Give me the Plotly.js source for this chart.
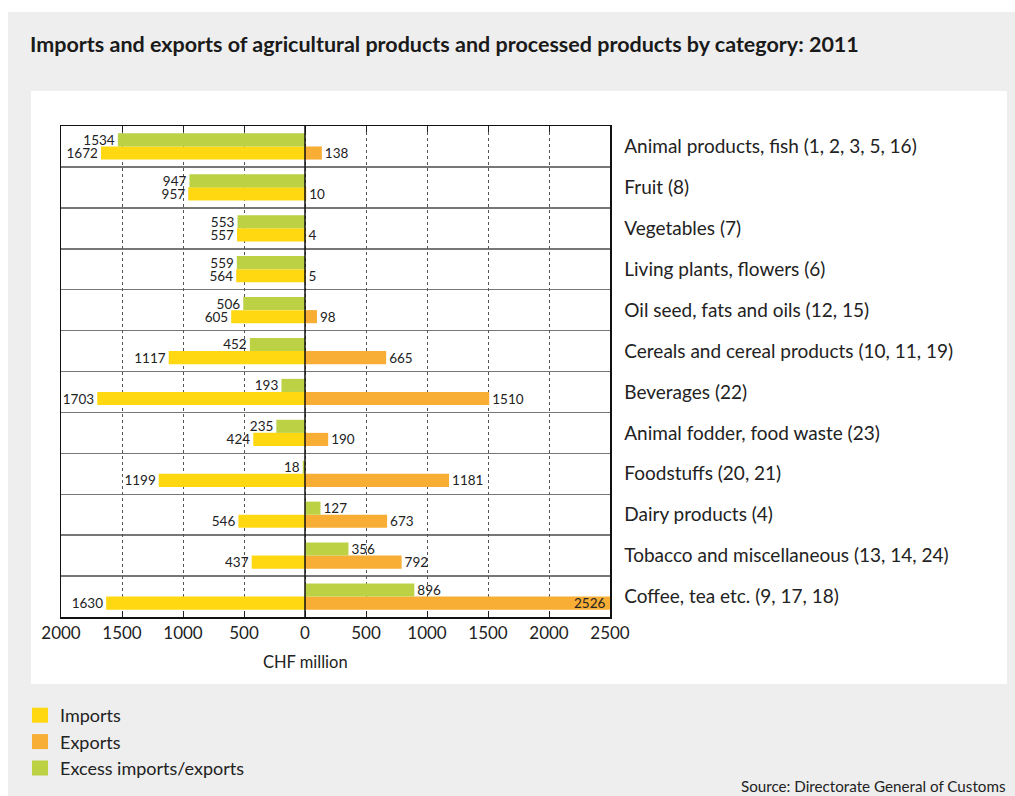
<!DOCTYPE html>
<html>
<head>
<meta charset="utf-8">
<script src="https://cdn.plot.ly/plotly-3.0.1.min.js"></script>
<style>
  html, body { margin: 0; padding: 0; background: #ffffff; width: 1015px; height: 796px; overflow: hidden; }
  #bg { position: absolute; left: 8px; top: 12px; width: 1007px; height: 784px; background: #eeeeee; }
  #panel { position: absolute; left: 31px; top: 91px; width: 976px; height: 593px; background: #ffffff; }
  #chart { position: absolute; left: 0; top: 0; width: 1015px; height: 796px; }
</style>
</head>
<body>
<div id="bg"></div>
<div id="panel"></div>
<div id="chart"></div>
<script>
const categories = [
  "Animal products, fish (1, 2, 3, 5, 16)",
  "Fruit (8)",
  "Vegetables (7)",
  "Living plants, flowers (6)",
  "Oil seed, fats and oils (12, 15)",
  "Cereals and cereal products (10, 11, 19)",
  "Beverages (22)",
  "Animal fodder, food waste (23)",
  "Foodstuffs (20, 21)",
  "Dairy products (4)",
  "Tobacco and miscellaneous (13, 14, 24)",
  "Coffee, tea etc. (9, 17, 18)"
];
const imports = [1672, 957, 557, 564, 605, 1117, 1703, 424, 1199, 546, 437, 1630];
const exports = [138, 10, 4, 5, 98, 665, 1510, 190, 1181, 673, 792, 2526];
// negative = excess imports, positive = excess exports
const excess = [-1534, -947, -553, -559, -506, -452, -193, -235, -18, 127, 356, 896];
const tickValues = [-2000, -1500, -1000, -500, 0, 500, 1000, 1500, 2000, 2500];
const tickLabels = ["2000", "1500", "1000", "500", "0", "500", "1000", "1500", "2000", "2500"];

const FONT = "Lato, 'Open Sans', sans-serif";
const YELLOW = "#ffd812", ORANGE = "#f8ad34", GREEN = "#bcd143";
const XMIN = -2000, XMAX = 2500;
const idx = categories.map((c, i) => i);
const yLow = idx.map(i => i + 0.16);
const yHigh = idx.map(i => i - 0.16);
const barW = 0.32;
const labelFont = { family: FONT, size: 13.5, color: "#222" };

// labels that would fall beyond the axis end are put inside the bar end
const expInside = exports.map(v => v > XMAX * 0.95);

const traces = [
  {
    type: "bar", orientation: "h", name: "Imports", legendgroup: "a",
    x: imports.map(v => -v), y: yLow, width: barW,
    marker: { color: YELLOW },
    text: imports.map(String), textposition: "outside",
    textfont: labelFont, constraintext: "none", cliponaxis: false,
    hoverinfo: "skip"
  },
  {
    type: "bar", orientation: "h", name: "Exports", legendgroup: "b",
    x: exports, y: yLow, width: barW,
    marker: { color: ORANGE },
    text: exports.map((v, i) => expInside[i] ? "" : String(v)),
    textposition: "outside",
    textfont: labelFont, constraintext: "none", cliponaxis: false,
    hoverinfo: "skip"
  },
  {
    type: "bar", orientation: "h", name: "Excess imports/exports", legendgroup: "c",
    x: excess, y: yHigh, width: barW,
    marker: { color: GREEN },
    text: excess.map(v => String(Math.abs(v))), textposition: "outside",
    textfont: labelFont, constraintext: "none", cliponaxis: false,
    hoverinfo: "skip"
  }
];

const L = 61, R = 610, T = 126, B = 617;
const W = 1015, H = 796;
const pw = R - L, ph = B - T;
const px = v => (v - L) / pw;
const py = v => (B - v) / ph;

const insideAnnotations = exports.map((v, i) => expInside[i] ? {
  text: String(v), xref: "x", yref: "y",
  x: Math.min(v, XMAX), y: yLow[i], xanchor: "right", yanchor: "middle",
  xshift: -3, showarrow: false, font: labelFont
} : null).filter(a => a);

const layout = {
  width: W, height: H,
  margin: { l: L, r: W - R, t: T, b: H - B, pad: 0, autoexpand: false },
  paper_bgcolor: "rgba(0,0,0,0)",
  plot_bgcolor: "rgba(0,0,0,0)",
  font: { family: FONT, color: "#222" },
  barmode: "overlay",
  showlegend: true,
  title: {
    text: "<b>Imports and exports of agricultural products and processed products by category: 2011</b>",
    font: { family: FONT, size: 21.5, color: "#1a1a1a" },
    xref: "container", yref: "container",
    x: 30 / W, xanchor: "left",
    y: 1 - 44 / H, yanchor: "middle"
  },
  xaxis: {
    range: [XMIN, XMAX],
    tickvals: tickValues, ticktext: tickLabels,
    tickfont: { family: FONT, size: 17, color: "#222" },
    ticks: "inside", ticklen: 6, tickcolor: "#222",
    showgrid: true, gridcolor: "#555", griddash: "dot", gridwidth: 1,
    zeroline: false,
    showline: true, linecolor: "#111", linewidth: 1.5, mirror: "ticks",
    fixedrange: true
  },
  yaxis: {
    range: [11.5, -0.5],
    side: "right",
    tickvals: idx, ticktext: categories,
    tickfont: { family: FONT, size: 19, color: "#222" },
    ticks: "", ticklabelstandoff: 9,
    showgrid: false, zeroline: false,
    minor: { tickmode: "linear", tick0: 0.5, dtick: 1, showgrid: true, gridcolor: "#777", gridwidth: 1.5, ticks: "" },
    showline: true, linecolor: "#111", linewidth: 1.5, mirror: true,
    fixedrange: true
  },
  shapes: [
    { type: "line", xref: "x", yref: "paper", x0: 0, x1: 0, y0: 0, y1: 1,
      line: { color: "#111", width: 1.5 }, layer: "above" }
  ],
  annotations: [
    { text: "CHF million", xref: "x", yref: "paper", x: 0, y: py(662),
      xanchor: "center", yanchor: "middle", showarrow: false,
      font: { family: FONT, size: 16.5, color: "#222" } },
    { text: "Source: Directorate General of Customs", xref: "paper", yref: "paper",
      x: px(1008), y: py(786), xanchor: "right", yanchor: "middle", showarrow: false,
      font: { family: FONT, size: 15.2, color: "#222" } }
  ].concat(insideAnnotations),
  legend: {
    x: px(20), xanchor: "left",
    y: py(697), yanchor: "top",
    orientation: "v",
    bgcolor: "rgba(0,0,0,0)",
    font: { family: FONT, size: 18, color: "#222" },
    traceorder: "grouped", tracegroupgap: 0,
    itemclick: false, itemdoubleclick: false
  }
};

Plotly.newPlot("chart", traces, layout, { staticPlot: true, displayModeBar: false }).then(gd => {
  document.querySelectorAll("#chart .legendpoints path").forEach(p => {
    const b = p.getBBox();
    const cx = b.x + b.width / 2, cy = b.y + b.height / 2;
    p.setAttribute("d", `M${cx + 8},${cy + 7.5}H${cx - 8}V${cy - 7.5}H${cx + 8}Z`);
    p.style.strokeWidth = "0";
  });
});
</script>
</body>
</html>
